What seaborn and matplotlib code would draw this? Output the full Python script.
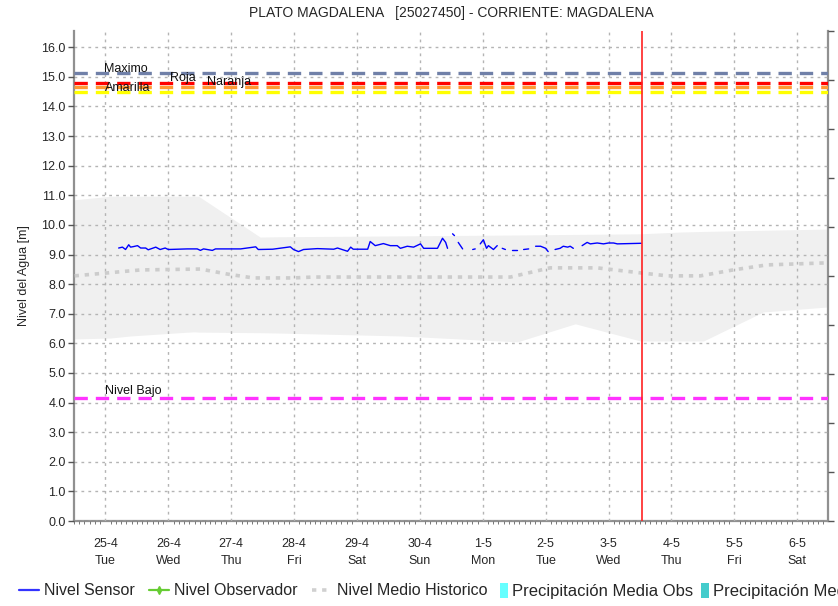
import numpy as np
import pandas as pd
import matplotlib
matplotlib.use('Agg')
import matplotlib.pyplot as plt
from matplotlib.lines import Line2D
from matplotlib.patches import Patch
import seaborn as sns

# %% Datos (dias contados desde 25-4 00:00)
dias_tick = [0, 1, 2, 3, 4, 5, 6, 7, 8, 9, 10, 11]
etiquetas_tick = ['25-4\nTue', '26-4\nWed', '27-4\nThu', '28-4\nFri', '29-4\nSat', '30-4\nSun',
                  '1-5\nMon', '2-5\nTue', '3-5\nWed', '4-5\nThu', '5-5\nFri', '6-5\nSat']

# Nivel sensor (tramo = segmento continuo)
sensor_dia = [0.21, 0.27, 0.32, 0.37, 0.40, 0.45, 0.51, 0.56, 0.64, 0.68, 0.80, 0.87, 0.95, 1.00,
              1.30, 1.46, 1.51, 1.56, 1.70, 1.75, 2.02, 2.15, 2.39, 2.43, 2.66, 2.94, 2.99, 3.07,
              3.15, 3.37, 3.63, 3.69, 3.85, 3.90, 3.94, 4.17, 4.21, 4.29, 4.42, 4.53, 4.64, 4.69,
              4.80, 4.90, 5.01, 5.06, 5.28, 5.36, 5.41, 5.44,
              5.52, 5.55,
              5.61, 5.68,
              5.84, 5.88,
              5.96, 6.01, 6.06, 6.09, 6.17, 6.23,
              6.31, 6.36,
              6.47, 6.55,
              6.65, 6.73,
              6.84, 6.92, 7.00, 7.04,
              7.15, 7.23, 7.28, 7.35, 7.39, 7.44,
              7.58, 7.66, 7.71, 7.82, 7.92, 8.00, 8.08, 8.14, 8.52]
sensor_nivel = [9.22, 9.25, 9.17, 9.33, 9.25, 9.27, 9.30, 9.22, 9.22, 9.16, 9.25, 9.17, 9.22, 9.17,
                9.19, 9.19, 9.14, 9.19, 9.14, 9.19, 9.19, 9.19, 9.26, 9.17, 9.18, 9.26, 9.17, 9.10,
                9.17, 9.20, 9.18, 9.22, 9.11, 9.25, 9.18, 9.18, 9.44, 9.30, 9.37, 9.30, 9.30, 9.21,
                9.28, 9.25, 9.36, 9.21, 9.21, 9.55, 9.41, 9.21,
                9.70, 9.64,
                9.41, 9.19,
                9.17, 9.19,
                9.36, 9.50, 9.21, 9.30, 9.17, 9.30,
                9.21, 9.17,
                9.17, 9.17,
                9.17, 9.19,
                9.28, 9.28, 9.21, 9.10,
                9.17, 9.21, 9.28, 9.25, 9.28, 9.21,
                9.30, 9.41, 9.36, 9.39, 9.36, 9.39, 9.39, 9.36, 9.38]
sensor_tramo = [0] * 50 + [1] * 2 + [2] * 2 + [3] * 2 + [4] * 6 + [5] * 2 + [6] * 2 + [7] * 2 + \
               [8] * 4 + [9] * 6 + [10] * 9

# Nivel medio historico
medio_dia = [-0.49, 0.56, 1.51, 1.94, 2.35, 2.99, 3.31, 6.44, 7.07, 7.82, 8.51, 8.94, 9.46, 9.98, 10.52, 11.49]
medio_nivel = [8.28, 8.48, 8.51, 8.34, 8.21, 8.21, 8.24, 8.24, 8.55, 8.55, 8.38, 8.28, 8.28, 8.48, 8.65, 8.72]

# Banda historica (minimo - maximo)
banda_dia = [-0.49, 0.08, 0.40, 1.40, 1.48, 2.46, 2.73, 4.69, 6.55, 7.47, 8.51, 9.14, 9.51, 10.46, 11.49]
banda_max = [10.85, 10.97, 10.97, 10.97, 10.97, 9.59, 9.60, 9.63, 9.66, 9.68, 9.70, 9.76, 9.78, 9.82, 9.86]
banda_min = [6.15, 6.18, 6.25, 6.39, 6.38, 6.36, 6.35, 6.25, 6.05, 6.66, 6.08, 6.08, 6.08, 7.06, 7.23]

# Umbrales
umbral_nombre = ['Maximo', 'Roja', 'Naranja', 'Amarilla', 'Nivel Bajo']
umbral_valor = [15.12, 14.81, 14.65, 14.50, 4.15]
umbral_color = ['#7080a8', '#ff0000', '#ff9933', '#ffff00', '#ff33ff']
umbral_texto_x = [-0.02, 1.03, 1.61, 0.0, 0.0]
umbral_texto_y = [15.16, 14.87, 14.72, 14.52, 4.28]

ahora = 8.53

# %% Grafico
sns.set_theme(style='white')
plt.rcParams['font.family'] = ['Liberation Sans', 'DejaVu Sans']

fig = plt.figure(figsize=(8.38, 6.06), dpi=100)
ax = fig.add_axes([74 / 838, 1 - 521 / 606, (828 - 74) / 838, (521 - 31) / 606])

# banda historica
ax.fill_between(banda_dia, banda_min, banda_max, color='#f0f0f0', lw=0, zorder=1)

# grilla punteada
ax.grid(True, color='#b4b4b4', linestyle=(0, (2, 3)), linewidth=1.0, zorder=2)
ax.set_axisbelow(False)

# nivel medio historico
df_medio = pd.DataFrame({'dia': medio_dia, 'nivel': medio_nivel})
sns.lineplot(data=df_medio, x='dia', y='nivel', ax=ax, color='#cccccc', lw=2.6,
             linestyle=(0, (1.2, 1.6)), zorder=3)

# umbrales
for valor, color in zip(umbral_valor, umbral_color):
    ax.axhline(valor, color=color, lw=2.4, linestyle=(0, (4, 2.4)), zorder=4)
for nombre, tx, ty in zip(umbral_nombre, umbral_texto_x, umbral_texto_y):
    ax.text(tx, ty, nombre, fontsize=9, color='#111111', va='baseline', ha='left', zorder=6)

# nivel sensor
df_sensor = pd.DataFrame({'dia': sensor_dia, 'nivel': sensor_nivel, 'tramo': sensor_tramo})
sns.lineplot(data=df_sensor, x='dia', y='nivel', units='tramo', estimator=None, ax=ax,
             color='#0000ff', lw=1.0, zorder=5)

# linea de tiempo actual
ax.axvline(ahora, color='#ff2222', lw=1.2, zorder=6)

# ejes
ax.set_xlim(-0.493, 11.49)
ax.set_ylim(0, 16.55)
ax.set_yticks(np.arange(0, 17, 1))
ax.set_yticklabels([f'{v:.1f}' for v in range(17)], fontsize=9)
ax.set_xticks(dias_tick)
ax.set_xticklabels(etiquetas_tick, fontsize=9, linespacing=1.6)
ax.set_xticks(np.arange(-0.5, 11.5, 1 / 12), minor=True)
ax.tick_params(axis='y', which='major', left=True, length=4, width=1, color='#555555', pad=2)
ax.tick_params(axis='x', which='major', bottom=False, pad=6)
ax.tick_params(axis='x', which='minor', bottom=True, length=2, width=0.7, color='#777777')
ax.set_xlabel('')
ax.set_ylabel('Nivel del Agua [m]', fontsize=9, labelpad=8)

for lado in ['left', 'bottom', 'right']:
    ax.spines[lado].set_color('#909090')
    ax.spines[lado].set_linewidth(1.6)
ax.spines['top'].set_visible(False)

# eje derecho (precipitacion), sus etiquetas quedan cortadas en el borde como en el original
ax2 = ax.twinx()
ax2.set_ylim(0, 10)
ax2.set_yticks(range(11))
ax2.set_yticklabels([str(v) for v in range(11)], fontsize=9)
ax2.tick_params(axis='y', right=True, length=4, width=1, color='#555555', pad=3)
ax2.grid(False)
for lado in ['left', 'bottom', 'right', 'top']:
    ax2.spines[lado].set_visible(False)

ax.set_title('PLATO MAGDALENA   [25027450] - CORRIENTE: MAGDALENA', fontsize=10, pad=10)

# leyenda: lineas
handles_lineas = [
    Line2D([], [], color='#3333ff', lw=1.6),
    Line2D([], [], color='#66cc33', lw=1.6, marker='d', markersize=4),
    Line2D([], [], color='#d0d0d0', lw=2.6, linestyle=(0, (1.2, 1.6))),
]
labels_lineas = ['Nivel Sensor', 'Nivel Observador', 'Nivel Medio Historico']
fig.legend(handles_lineas, labels_lineas, loc='center left', bbox_to_anchor=(0.006, 0.025),
           ncol=3, frameon=False, fontsize=11.5, handlelength=1.25, handletextpad=0.3,
           columnspacing=0.9)

# leyenda: precipitacion (parches angostos)
handles_precip = [Patch(facecolor='#66ffff', edgecolor='none'),
                  Patch(facecolor='#44cccc', edgecolor='none')]
labels_precip = ['Precipitación Media Obs', 'Precipitación Media Pronostico']
fig.legend(handles_precip, labels_precip, loc='center left', bbox_to_anchor=(0.579, 0.025),
           ncol=2, frameon=False, fontsize=12, handlelength=0.45, handleheight=1.0,
           handletextpad=0.25, columnspacing=0.5)

fig.savefig('out.png', dpi=100)
